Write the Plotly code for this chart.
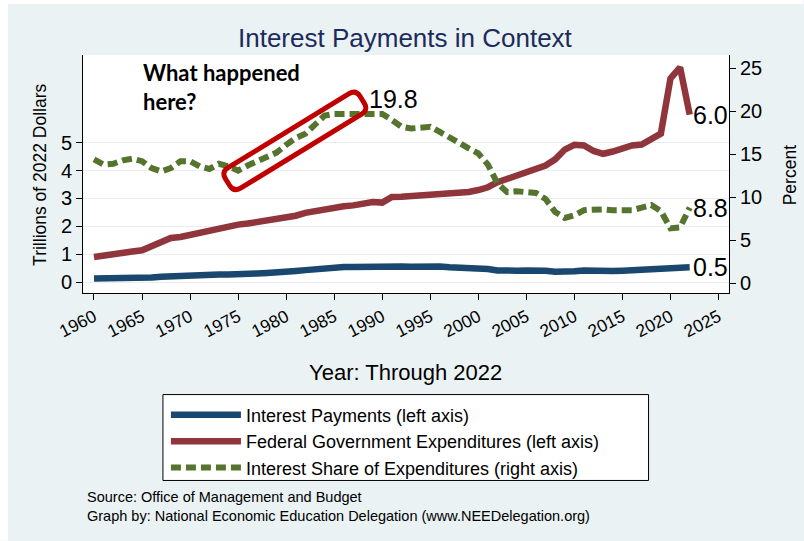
import math
import plotly.graph_objects as go

# ---------------- data ----------------
years = list(range(1960, 2023))

interest = [0.13, 0.13, 0.14, 0.15, 0.16, 0.16, 0.17, 0.19, 0.21, 0.23,
            0.24, 0.24, 0.25, 0.27, 0.27, 0.27, 0.29, 0.31, 0.33, 0.34,
            0.37, 0.40, 0.43, 0.47, 0.51, 0.53, 0.54, 0.54, 0.55, 0.57,
            0.56, 0.58, 0.56, 0.55, 0.56, 0.57, 0.56, 0.53, 0.52, 0.51,
            0.50, 0.47, 0.42, 0.39, 0.41, 0.42, 0.43, 0.41, 0.37, 0.36,
            0.39, 0.42, 0.40, 0.40, 0.40, 0.41, 0.42, 0.43, 0.46, 0.45,
            0.47, 0.50, 0.53]

expend = [0.90, 0.96, 1.03, 1.06, 1.10, 1.14, 1.30, 1.48, 1.58, 1.62,
          1.70, 1.78, 1.88, 1.93, 1.98, 2.06, 2.10, 2.16, 2.23, 2.25,
          2.30, 2.38, 2.48, 2.55, 2.62, 2.68, 2.72, 2.75, 2.80, 2.87,
          2.85, 3.05, 3.06, 3.08, 3.12, 3.13, 3.15, 3.16, 3.19, 3.23,
          3.30, 3.40, 3.58, 3.70, 3.82, 3.92, 4.05, 4.18, 4.40, 4.75,
          4.92, 4.90, 4.70, 4.60, 4.68, 4.80, 4.90, 4.93, 5.10, 5.32,
          7.30, 7.70, 6.00]

share = [14.4, 13.8, 13.9, 14.3, 14.5, 14.2, 13.4, 13.0, 13.4, 14.2,
         14.2, 13.6, 13.3, 13.9, 13.6, 13.1, 13.7, 14.2, 14.6, 15.2,
         16.1, 16.9, 17.4, 18.4, 19.5, 19.7, 19.7, 19.7, 19.7, 19.8,
         19.7, 19.0, 18.2, 18.0, 18.1, 18.2, 17.6, 16.9, 16.2, 15.7,
         15.1, 13.8, 11.6, 10.6, 10.7, 10.6, 10.5, 9.8, 8.3, 7.6,
         7.9, 8.5, 8.6, 8.6, 8.5, 8.5, 8.5, 8.8, 9.1, 8.4,
         6.4, 6.5, 8.8]

x_ticks = [1960, 1965, 1970, 1975, 1980, 1985, 1990, 1995, 2000, 2005, 2010, 2015, 2020, 2025]
left_ticks = [0, 1, 2, 3, 4, 5]
right_ticks = [0, 5, 10, 15, 20, 25]

names = ["Interest Payments (left axis)",
         "Federal Government Expenditures (left axis)",
         "Interest Share of Expenditures (right axis)"]

# ---------------- styling ----------------
W, H = 804, 541
PL, PR, PT, PB = 83, 729.5, 55, 293.3
BG = "#EAF2F3"
FONT = "Liberation Sans, Arial, sans-serif"
C_BLUE, C_RED, C_GREEN = "#1A476F", "#90353B", "#55752F"


def pxx(px):
    return (px - PL) / (PR - PL)


def pxy(py):
    return (PB - py) / (PB - PT)


fig = go.Figure()
fig.add_trace(go.Scatter(x=years, y=interest, name=names[0], mode="lines",
                         line=dict(color=C_BLUE, width=6.5), yaxis="y"))
fig.add_trace(go.Scatter(x=years, y=expend, name=names[1], mode="lines",
                         line=dict(color=C_RED, width=6.5), yaxis="y"))
fig.add_trace(go.Scatter(x=years, y=share, name=names[2], mode="lines",
                         line=dict(color=C_GREEN, width=6, dash="10px,5px"), yaxis="y2"))

annotations = []
# title
annotations.append(dict(text="Interest Payments in Context", x=pxx(406), y=pxy(38),
                        xref="paper", yref="paper", xanchor="center", yanchor="middle",
                        showarrow=False, font=dict(size=26, color="#1C2B5C", family=FONT)))
# axis titles
annotations.append(dict(text="Trillions of 2022 Dollars", x=pxx(40), y=pxy(175),
                        xref="paper", yref="paper", xanchor="center", yanchor="middle",
                        textangle=-90, showarrow=False, font=dict(size=17.5, color="black", family=FONT)))
annotations.append(dict(text="Percent", x=pxx(790), y=pxy(175),
                        xref="paper", yref="paper", xanchor="center", yanchor="middle",
                        textangle=-90, showarrow=False, font=dict(size=17.5, color="black", family=FONT)))
annotations.append(dict(text="Year: Through 2022", x=pxx(406), y=pxy(373),
                        xref="paper", yref="paper", xanchor="center", yanchor="middle",
                        showarrow=False, font=dict(size=22, color="black", family=FONT)))
# source
annotations.append(dict(text="Source: Office of Management and Budget<br>Graph by: National Economic Education Delegation (www.NEEDelegation.org)",
                        x=pxx(85), y=pxy(507), xref="paper", yref="paper", xanchor="left", yanchor="middle",
                        align="left", showarrow=False, font=dict(size=14.5, color="black", family=FONT)))
# callout text
annotations.append(dict(text="<b>What happened<br>here?</b>", x=pxx(141), y=pxy(87),
                        xref="paper", yref="paper", xanchor="left", yanchor="middle",
                        align="left", showarrow=False, font=dict(size=22, color="black", family="Lato, Open Sans, sans-serif")))
# value labels
imax = share.index(max(share))
annotations.append(dict(text=f"{share[imax]:.1f}", x=years[imax], y=share[imax], xref="x", yref="y2",
                        xanchor="left", yanchor="bottom", xshift=-6, yshift=-2, showarrow=False,
                        font=dict(size=25, color="black", family=FONT)))
annotations.append(dict(text=f"{expend[-1]:.1f}", x=years[-1], y=expend[-1], xref="x", yref="y",
                        xanchor="left", yanchor="middle", xshift=1, showarrow=False,
                        font=dict(size=25, color="black", family=FONT)))
annotations.append(dict(text=f"{share[-1]:.1f}", x=years[-1], y=share[-1], xref="x", yref="y2",
                        xanchor="left", yanchor="middle", xshift=1, showarrow=False,
                        font=dict(size=25, color="black", family=FONT)))
annotations.append(dict(text=f"{interest[-1]:.1f}", x=years[-1], y=interest[-1], xref="x", yref="y",
                        xanchor="left", yanchor="middle", xshift=1, showarrow=False,
                        font=dict(size=25, color="black", family=FONT)))

# rotated rounded rectangle highlight (pixel geometry -> paper coords)
cx, cy, hl, hw, rr, ang = 295.0, 141.0, 79.0, 12.0, 8.0, math.radians(31.5)
ux, uy = math.cos(ang), -math.sin(ang)
vx, vy = math.sin(ang), math.cos(ang)


def P(a, b):
    return f"{pxx(cx + a * ux + b * vx):.5f},{pxy(cy + a * uy + b * vy):.5f}"


path = (f"M{P(-hl + rr, -hw)} L{P(hl - rr, -hw)} Q{P(hl, -hw)} {P(hl, -hw + rr)} "
        f"L{P(hl, hw - rr)} Q{P(hl, hw)} {P(hl - rr, hw)} L{P(-hl + rr, hw)} "
        f"Q{P(-hl, hw)} {P(-hl, hw - rr)} L{P(-hl, -hw + rr)} Q{P(-hl, -hw)} {P(-hl + rr, -hw)} Z")

shapes = [
    # white strips at top and left of the picture
    dict(type="rect", xref="paper", yref="paper", x0=pxx(0), x1=pxx(W), y0=pxy(4), y1=pxy(0),
         fillcolor="white", line=dict(width=0), layer="below"),
    dict(type="rect", xref="paper", yref="paper", x0=pxx(0), x1=pxx(8), y0=pxy(H), y1=pxy(0),
         fillcolor="white", line=dict(width=0), layer="below"),
    # legend frame
    dict(type="rect", xref="paper", yref="paper", x0=pxx(163), x1=pxx(649), y0=pxy(481), y1=pxy(395),
         fillcolor="white", line=dict(color="black", width=1), layer="below"),
    # highlight box
    dict(type="path", xref="paper", yref="paper", path=path,
         line=dict(color="#C00000", width=5), fillcolor="rgba(0,0,0,0)"),
]

fig.update_layout(
    width=W, height=H,
    margin=dict(l=PL, r=W - PR, t=PT, b=H - PB, pad=0),
    paper_bgcolor=BG, plot_bgcolor="white",
    font=dict(family=FONT, color="black"),
    showlegend=True,
    legend=dict(x=pxx(166), y=pxy(397), xanchor="left", yanchor="top",
                bgcolor="rgba(0,0,0,0)", borderwidth=0, itemwidth=70,
                font=dict(size=18, family=FONT, color="black"), tracegroupgap=0),
    xaxis=dict(range=[1960 - 11 / 9.615, 2025 + 10.5 / 9.615], tickvals=x_ticks, tickangle=-27,
               showline=True, linecolor="black", linewidth=1, ticks="outside", ticklen=6,
               tickcolor="black", showgrid=False, zeroline=False,
               tickfont=dict(size=17.5, family=FONT, color="black")),
    yaxis=dict(range=[-0.39, 8.14], tickvals=left_ticks, showline=True, linecolor="black",
               linewidth=1, ticks="outside", ticklen=6, tickcolor="black",
               showgrid=True, gridcolor="#E9EDEF", gridwidth=1, zeroline=False,
               tickfont=dict(size=20, family=FONT, color="black")),
    yaxis2=dict(range=[-1.13, 26.55], tickvals=right_ticks, overlaying="y", side="right",
                showline=True, linecolor="black", linewidth=1, ticks="outside", ticklen=6,
                tickcolor="black", showgrid=False, zeroline=False,
                tickfont=dict(size=20, family=FONT, color="black")),
    annotations=annotations,
    shapes=shapes,
)

fig.write_html("out.html", config={"displayModeBar": False},
               post_script=("document.body.style.margin='0px';"
                            "document.body.style.overflow='hidden';"
                            f"document.body.style.background='{BG}';"))
